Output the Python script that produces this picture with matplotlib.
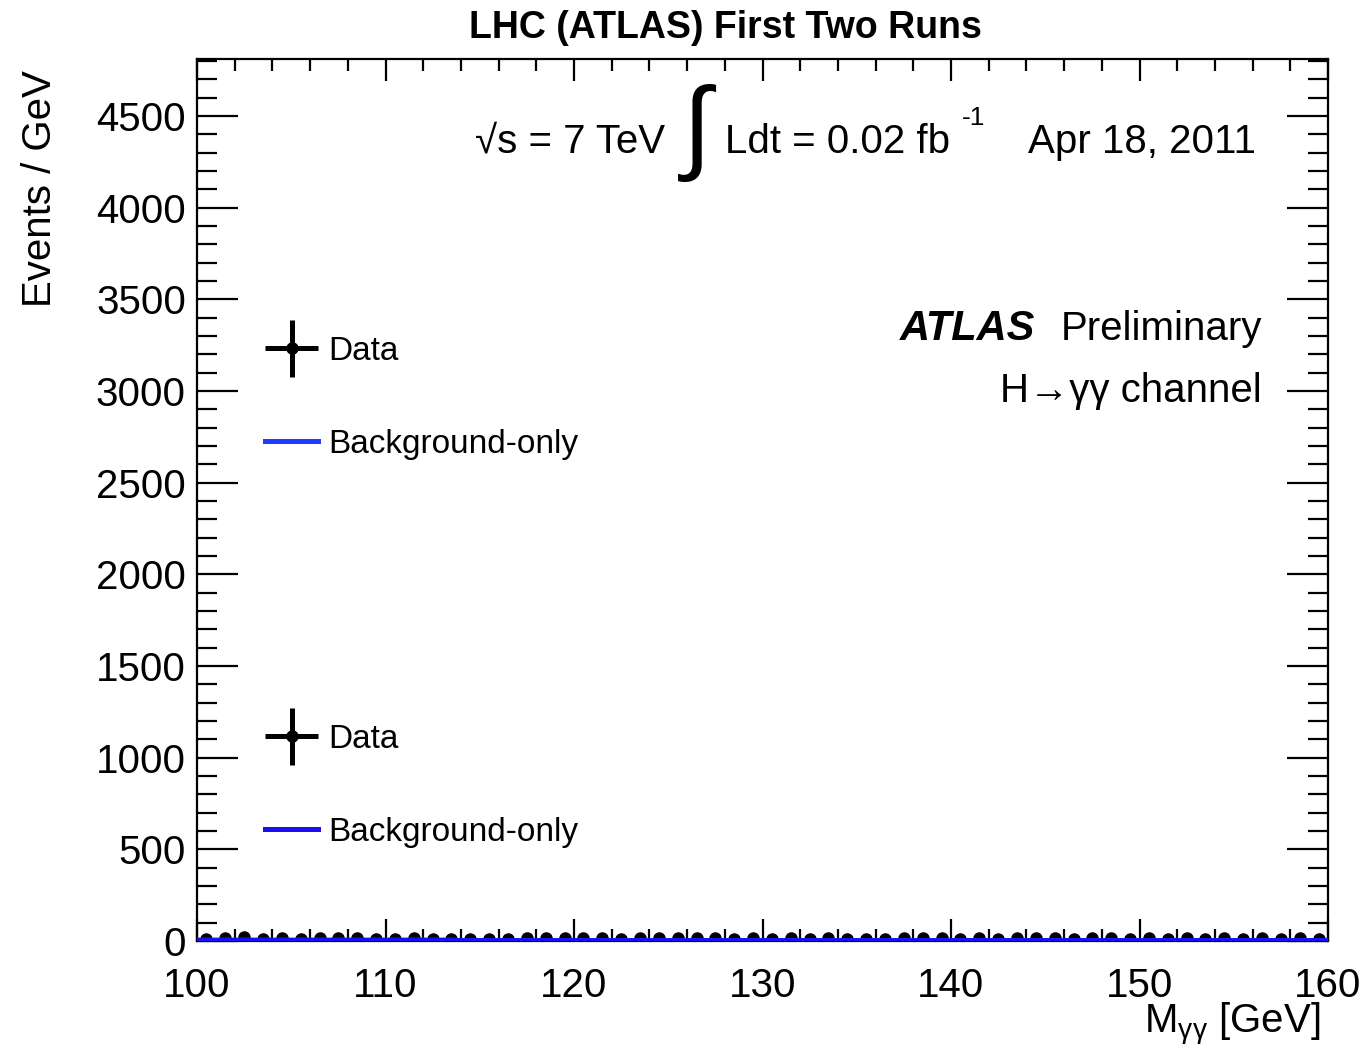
import numpy as np
import matplotlib
matplotlib.use('Agg')
import matplotlib.pyplot as plt
from matplotlib.legend_handler import HandlerErrorbar
from matplotlib.ticker import MultipleLocator

plt.rcParams['font.family'] = ['Liberation Sans', 'DejaVu Sans']
plt.rcParams['mathtext.fontset'] = 'custom'
plt.rcParams['mathtext.rm'] = 'Liberation Sans'
plt.rcParams['mathtext.it'] = 'Liberation Sans:italic'
plt.rcParams['mathtext.bf'] = 'Liberation Sans:bold'

# --- data: 1 GeV bins from 100 to 160 GeV ---
bin_centres = np.arange(100.5, 160.0, 1.0)
events = [
    12, 18, 20, 11, 19, 12, 18, 18, 19, 11,
    12, 18, 12, 12, 11, 11, 12, 18, 18, 19,
    18, 14, 13, 14, 14, 14, 18, 14, 13, 14,
    13, 14, 13, 14, 13, 13, 13, 14, 18, 14,
    13, 14, 13, 14, 14, 14, 13, 14, 14, 13,
    14, 13, 14, 13, 14, 13, 14, 13, 14, 13,
]
events_err = np.sqrt(events)

bkg_mass = [100.0, 113.5, 114.0, 160.0]
bkg_run1 = [6, 6, 4, 4]
bkg_run2 = [5, 5, 3, 3]

BLUE1 = '#1f3cff'
BLUE2 = '#1a0ff0'

fig = plt.figure(figsize=(13.62, 10.49), dpi=100)
W, H = 1362, 1049
ax = fig.add_axes([197 / W, 1 - 941 / H, (1328 - 197) / W, (941 - 59) / H])

eb = ax.errorbar(bin_centres, events, yerr=events_err, xerr=0, fmt='o',
                 color='black', ms=8, elinewidth=3.6, capsize=0, zorder=3)
l1, = ax.plot(bkg_mass, bkg_run1, color=BLUE1, lw=3.2, zorder=4)
l2, = ax.plot(bkg_mass, bkg_run2, color=BLUE2, lw=3.2, zorder=4)

ax.set_xlim(100, 160)
ax.set_ylim(0, 4810)
ax.xaxis.set_major_locator(MultipleLocator(10))
ax.xaxis.set_minor_locator(MultipleLocator(2))
ax.yaxis.set_major_locator(MultipleLocator(500))
ax.yaxis.set_minor_locator(MultipleLocator(100))
ax.tick_params(axis='both', which='both', direction='in',
               top=True, right=True, width=1.6, labelsize=29)
ax.tick_params(axis='x', which='major', length=16, pad=19)
ax.tick_params(axis='x', which='minor', length=8.5)
ax.tick_params(axis='y', which='major', length=29.5, pad=8)
ax.tick_params(axis='y', which='minor', length=14.5)
for sp in ax.spines.values():
    sp.set_linewidth(1.6)

# two legends, one per run
handler = {type(eb): HandlerErrorbar(xerr_size=0.8, yerr_size=0.85)}
leg_kw = dict(frameon=False, fontsize=24, handlelength=1.6, handletextpad=0.3,
              labelspacing=1.85, borderpad=0, borderaxespad=0,
              loc='upper left', bbox_transform=fig.transFigure,
              handler_map=handler)
leg1 = ax.legend([eb, l1], ['Data', 'Background-only'],
                 bbox_to_anchor=(265 / W, 1 - 336 / H), **leg_kw)
for h in leg1.get_lines():
    if h.get_color() == BLUE1:
        h.set_linewidth(3.6)
ax.add_artist(leg1)
leg2 = ax.legend([eb, l2], ['Data', 'Background-only'],
                 bbox_to_anchor=(265 / W, 1 - 724 / H), **leg_kw)
for h in leg2.get_lines():
    if h.get_color() == BLUE2:
        h.set_linewidth(3.6)

# labels and annotations
fig.text(725 / W, 1 - 28 / H, 'LHC (ATLAS) First Two Runs', ha='center',
         va='center', fontsize=27, fontweight='bold')
fig.text(1320 / W, 1 - 1033 / H, r'M$_{\mathrm{γγ}}$ [GeV]', ha='right',
         va='baseline', fontsize=29)
fig.text(40 / W, 1 - 70 / H, 'Events / GeV', ha='center', va='top',
         rotation=90, fontsize=29)

fig.text(475 / W, 1 - 153 / H, '\u221as = 7 TeV', ha='left',
         va='baseline', fontsize=29)
fig.text(697 / W, 1 - 133 / H, '\u222b', ha='center', va='center',
         fontsize=74, fontweight='light')
fig.text(725 / W, 1 - 153 / H, 'Ldt = 0.02 fb', ha='left', va='baseline',
         fontsize=29)
fig.text(962 / W, 1 - 125 / H, '-1', ha='left', va='baseline', fontsize=19)
fig.text(1028 / W, 1 - 153 / H, 'Apr 18, 2011', ha='left', va='baseline',
         fontsize=29)

fig.text(900 / W, 1 - 340 / H, 'ATLAS', ha='left', va='baseline',
         fontsize=30, fontweight='bold', fontstyle='italic')
fig.text(1262 / W, 1 - 340 / H, 'Preliminary', ha='right', va='baseline',
         fontsize=29)
fig.text(1262 / W, 1 - 402 / H, 'H\u2192\u03b3\u03b3 channel', ha='right',
         va='baseline', fontsize=29)

fig.savefig('out.png', dpi=100)
